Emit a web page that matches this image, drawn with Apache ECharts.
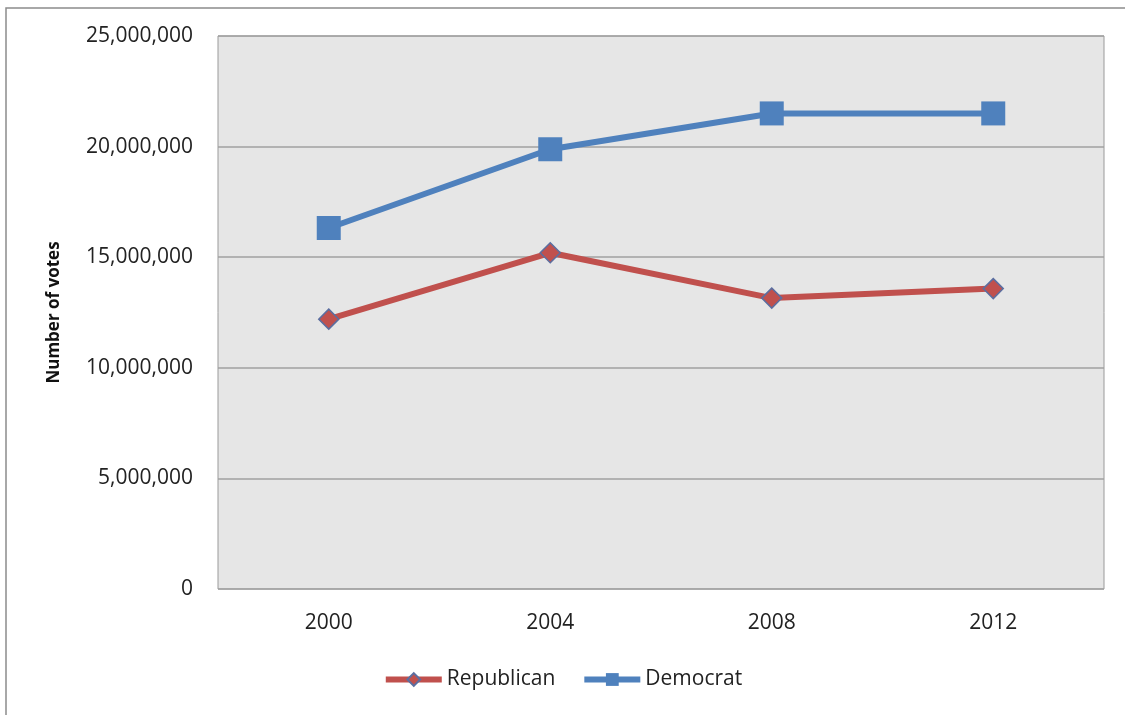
<!DOCTYPE html>
<html>
<head>
<meta charset="utf-8">
<script src="https://cdn.jsdelivr.net/npm/echarts@6/dist/echarts.min.js"></script>
<style>
  html, body { margin: 0; padding: 0; background: #fff; }
  #grafica { width: 1125px; height: 715px; }
</style>
</head>
<body>
<div id="grafica"></div>
<script>
// datos
var anios = ['2000', '2004', '2008', '2012'];
var republicanos = [12200000, 15200000, 13150000, 13580000];
var democratas = [16320000, 19880000, 21500000, 21500000];
var marcasY = [0, 5000000, 10000000, 15000000, 20000000, 25000000];

var grafico = echarts.init(document.getElementById('grafica'));
var fuente = '"Open Sans", "DejaVu Sans", sans-serif';

function formatoMiles(v) {
    return String(v).replace(/\B(?=(\d{3})+(?!\d))/g, ',');
}

var option = {
    animation: false,
    backgroundColor: '#fff',
    graphic: [{
        type: 'rect',
        shape: { x: 6, y: 8, width: 1140, height: 730 },
        style: { fill: 'none', stroke: '#8c8c8c', lineWidth: 1.5 },
        silent: true
    }],
    grid: {
        left: 218, top: 36, width: 886, height: 553,
        show: true, backgroundColor: '#e6e6e6', borderColor: '#9a9a9a', borderWidth: 1
    },
    legend: {
        bottom: 20,
        left: 'center',
        itemWidth: 56,
        itemHeight: 16,
        itemGap: 26,
        textStyle: { fontFamily: fuente, fontSize: 21, color: '#222' },
        data: [
            { name: 'Republican', lineStyle: { width: 6 } },
            { name: 'Democrat', lineStyle: { width: 6 } }
        ]
    },
    xAxis: {
        type: 'category',
        data: anios,
        boundaryGap: true,
        axisLine: { show: false },
        axisTick: { show: false },
        axisLabel: { fontFamily: fuente, fontSize: 21, color: '#222', margin: 24 }
    },
    yAxis: {
        type: 'value',
        min: marcasY[0],
        max: marcasY[marcasY.length - 1],
        interval: 5000000,
        name: 'Number of votes',
        nameLocation: 'middle',
        nameGap: 155,
        nameRotate: 90,
        nameTextStyle: { fontFamily: fuente, fontSize: 17, fontWeight: 'bold', color: '#111' },
        axisLine: { show: false },
        axisTick: { show: false },
        axisLabel: {
            fontFamily: fuente, fontSize: 21, color: '#222', margin: 25,
            formatter: function (v) { return formatoMiles(v); }
        },
        splitLine: { lineStyle: { color: '#a0a0a0', width: 1.5 } }
    },
    series: [
        {
            name: 'Republican',
            type: 'line',
            data: republicanos,
            symbol: 'diamond',
            symbolSize: 20,
            lineStyle: { color: '#c0504d', width: 6 },
            itemStyle: { color: '#c0504d', borderColor: '#5b6ea0', borderWidth: 1.5 },
            z: 3
        },
        {
            name: 'Democrat',
            type: 'line',
            data: democratas,
            symbol: 'rect',
            symbolSize: 24,
            lineStyle: { color: '#4f81bd', width: 6 },
            itemStyle: { color: '#4f81bd' },
            z: 4
        }
    ]
};

grafico.setOption(option);
</script>
</body>
</html>
